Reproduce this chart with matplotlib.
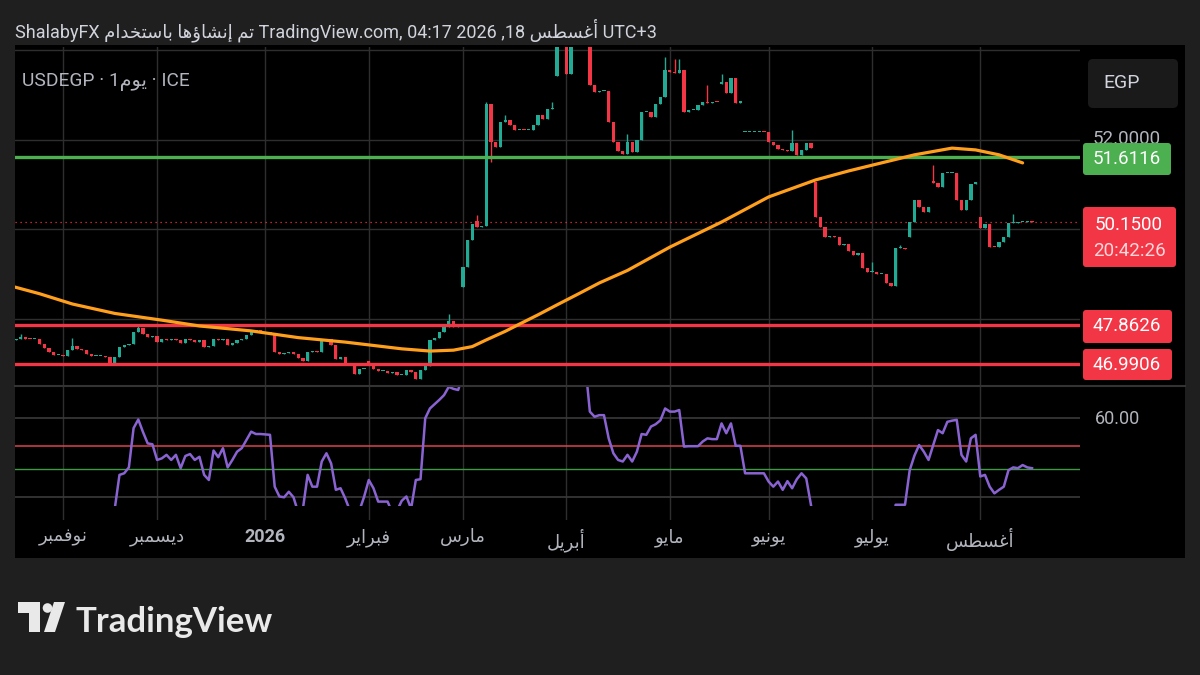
import numpy as np
import pandas as pd
import matplotlib
matplotlib.use("Agg")
import matplotlib.pyplot as plt
from matplotlib.patches import FancyBboxPatch, Rectangle, Polygon, Circle
from matplotlib.transforms import IdentityTransform
from matplotlib.lines import Line2D

# ---------------- data ----------------
bar_dates = pd.bdate_range("2025-10-20", "2026-08-18")

closes = [
    47.56, 47.60, 47.56, 47.54, 47.54, 47.44, 47.34, 47.26, 47.19, 47.19,  # 0
    47.17, 47.30, 47.39, 47.32, 47.30, 47.21, 47.17, 47.17, 47.17, 47.15,  # 10
    47.02, 47.15, 47.38, 47.41, 47.43, 47.71, 47.79, 47.66, 47.60, 47.61,  # 20
    47.49, 47.54, 47.52, 47.56, 47.52, 47.45, 47.56, 47.52, 47.49, 47.52,  # 30
    47.38, 47.40, 47.56, 47.52, 47.54, 47.41, 47.47, 47.52, 47.56, 47.63,  # 40
    47.72, 47.74, 47.70, 47.69, 47.69, 47.27, 47.22, 47.23, 47.27, 47.22,  # 50
    47.12, 47.06, 47.27, 47.28, 47.26, 47.50, 47.54, 47.41, 47.11, 47.14,  # 60
    47.00, 47.00, 46.77, 46.87, 46.87, 46.99, 46.89, 46.83, 46.83, 46.80,  # 70
    46.81, 46.74, 46.75, 46.85, 46.81, 46.65, 46.85, 46.94, 47.52, 47.57,  # 80
    47.70, 47.82, 47.94, 47.82, 47.89, 49.15, 49.75, 50.12, 50.06, 50.08,  # 90
    52.80, 51.95, 51.83, 52.39, 52.43, 52.32, 52.22, 52.22, 52.21, 52.22,  # 100
    52.32, 52.54, 52.47, 52.69, 52.69, 54.60, 54.80, 53.47, 54.50, 54.70,  # 110
    54.90, 54.60, 53.21, 53.06, 53.08, 53.08, 52.39, 51.95, 51.74, 51.68,  # 120
    51.94, 51.72, 51.98, 52.61, 52.61, 52.50, 52.80, 52.96, 53.55, 53.52,  # 130
    53.48, 53.55, 52.62, 52.65, 52.65, 52.77, 52.85, 52.81, 52.85, 52.83,  # 140
    53.29, 53.03, 53.37, 52.81, 52.86, 52.18, 52.18, 52.18, 52.18, 52.16,  # 150
    51.95, 51.88, 51.80, 51.77, 51.75, 51.92, 51.66, 51.77, 51.92, 51.81,  # 160
    50.28, 50.06, 49.83, 49.85, 49.83, 49.65, 49.67, 49.52, 49.42, 49.46,  # 170
    49.13, 49.05, 49.05, 49.01, 49.01, 48.79, 48.73, 49.57, 49.57, 49.55,  # 180
    50.17, 50.65, 50.50, 50.39, 50.49, 51.03, 50.95, 51.25, 51.26, 51.26,  # 190
    50.65, 50.43, 50.65, 51.02, 51.06, 50.02, 50.12, 49.61, 49.60, 49.72,  # 200
    49.83, 50.13, 50.13, 50.15, 50.17, 50.19, 50.15,                      # 210
]
# opens that differ from the previous close (gaps)
gap_opens = {0: 47.52, 75: 47.05, 95: 48.71, 98: 50.19, 115: 53.43, 150: 53.25,
             155: 52.18, 170: 51.06, 190: 49.83, 195: 51.07, 205: 50.27}
wick_highs = {1: 47.66, 12: 47.57, 26: 47.85, 92: 48.11, 98: 50.31, 100: 52.85,
              104: 52.55, 114: 52.84, 130: 52.13, 138: 53.85, 140: 53.81, 141: 53.81,
              147: 53.21, 150: 53.47, 165: 52.21, 182: 49.27, 188: 49.65, 195: 51.43,
              212: 50.35}
wick_lows = {20: 46.98, 101: 51.50}

# orange moving average, (bar index, price)
ma_idx = [-1, 5, 12, 21, 31, 39, 50, 60, 70, 82, 88, 93, 97, 100, 104, 107, 111,
          115, 120, 124, 130, 139, 150, 160, 170, 177, 184, 191, 199, 204, 209, 214]
ma_val = [48.73, 48.56, 48.33, 48.12, 47.97, 47.84, 47.73, 47.58, 47.48, 47.33,
          47.28, 47.30, 47.38, 47.53, 47.72, 47.88, 48.09, 48.31, 48.58, 48.80,
          49.08, 49.60, 50.16, 50.72, 51.10, 51.30, 51.48, 51.66, 51.81, 51.77,
          51.66, 51.48]

# RSI-style oscillator, (bar index, value)
rsi_idx = list(range(20, 217))
rsi_val = [
    33.0, 37.0, 45.6, 46.0, 47.5, 57.5, 59.7, 56.5, 53.6, 53.4,  # 20
    49.4, 49.8, 50.7, 49.4, 50.7, 47.3, 50.4, 50.9, 49.4, 50.2,  # 30
    45.6, 44.3, 51.8, 50.1, 52.4, 47.5, 49.4, 51.5, 52.4, 54.5,  # 40
    56.6, 56.0, 56.0, 55.9, 55.8, 42.6, 40.1, 39.9, 41.3, 39.9,  # 50
    36.0, 37.0, 45.6, 42.6, 42.6, 49.0, 51.1, 48.5, 41.8, 42.2,  # 60
    39.6, 36.5, 35.5, 36.5, 40.0, 44.3, 42.2, 38.8, 38.8, 38.8,  # 70
    36.0, 36.5, 39.0, 40.1, 37.0, 44.3, 44.5, 60.0, 62.5, 63.6,  # 80
    64.7, 65.9, 68.0, 67.5, 67.2, 71.0, 74.0, 76.0, 75.0, 75.0,  # 90
    82.0, 78.0, 77.0, 79.0, 79.0, 78.0, 77.0, 77.0, 77.0, 77.0,  # 100
    78.0, 79.0, 79.0, 80.0, 80.0, 84.0, 84.0, 78.0, 81.0, 84.0,  # 110
    83.0, 74.0, 61.7, 60.4, 60.8, 60.8, 54.9, 51.1, 49.4, 49.0,  # 120
    50.7, 49.0, 51.5, 56.0, 55.8, 57.9, 58.5, 59.5, 62.5, 61.7,  # 130
    61.7, 62.1, 52.8, 52.9, 52.9, 52.9, 54.1, 54.9, 54.7, 54.7,  # 140
    58.7, 56.2, 58.7, 53.0, 53.0, 46.0, 46.0, 46.0, 46.0, 46.0,  # 150
    43.9, 42.6, 43.9, 41.8, 44.0, 42.2, 44.5, 46.0, 44.7, 38.0,  # 160
    30.0, 28.0, 26.0, 25.0, 26.0, 25.0, 24.0, 24.0, 23.0, 25.0,  # 170
    23.0, 24.0, 24.0, 24.0, 23.0, 22.0, 22.0, 38.0, 38.0, 38.0,  # 180
    46.8, 50.5, 53.2, 51.5, 49.4, 53.2, 57.0, 56.2, 59.1, 59.4,  # 190
    59.6, 50.7, 49.0, 54.9, 55.8, 45.2, 45.6, 42.6, 40.9, 41.8,  # 200
    42.6, 46.8, 47.5, 47.3, 48.1, 47.5, 47.3,                    # 210
]

level_green = 51.6116
level_red_hi = 47.8626
level_red_lo = 46.9906
last_price = 50.15
countdown = "20:42:26"
price_grid = [48.0, 50.0, 52.0, 54.0]
rsi_grid = [60.0, 40.0]
rsi_red, rsi_green = 53.0, 47.0

month_names = ["نوفمبر", "ديسمبر", "2026", "فبراير", "مارس", "أبريل",
               "مايو", "يونيو", "يوليو", "أغسطس"]

# ---------------- minimal arabic shaping (visual order) ----------------
FORMS = {
    'ا': (0xFE8D, 0xFE8E), 'أ': (0xFE83, 0xFE84), 'إ': (0xFE87, 0xFE88),
    'ؤ': (0xFE85, 0xFE86), 'د': (0xFEA9, 0xFEAA), 'ر': (0xFEAD, 0xFEAE),
    'و': (0xFEED, 0xFEEE),
    'ب': (0xFE8F, 0xFE90, 0xFE91, 0xFE92), 'ت': (0xFE95, 0xFE96, 0xFE97, 0xFE98),
    'خ': (0xFEA5, 0xFEA6, 0xFEA7, 0xFEA8), 'س': (0xFEB1, 0xFEB2, 0xFEB3, 0xFEB4),
    'ش': (0xFEB5, 0xFEB6, 0xFEB7, 0xFEB8), 'ط': (0xFEC1, 0xFEC2, 0xFEC3, 0xFEC4),
    'غ': (0xFECD, 0xFECE, 0xFECF, 0xFED0), 'ف': (0xFED1, 0xFED2, 0xFED3, 0xFED4),
    'ل': (0xFEDD, 0xFEDE, 0xFEDF, 0xFEE0), 'م': (0xFEE1, 0xFEE2, 0xFEE3, 0xFEE4),
    'ن': (0xFEE5, 0xFEE6, 0xFEE7, 0xFEE8), 'ه': (0xFEE9, 0xFEEA, 0xFEEB, 0xFEEC),
    'ي': (0xFEF1, 0xFEF2, 0xFEF3, 0xFEF4),
}


def ar(s):
    out = []
    for k, ch in enumerate(s):
        f = FORMS.get(ch)
        if f is None:
            out.append(ch)
            continue
        prev = s[k - 1] if k > 0 else ''
        nxt = s[k + 1] if k + 1 < len(s) else ''
        jp = prev in FORMS and len(FORMS[prev]) == 4
        jn = len(f) == 4 and nxt in FORMS
        if jp and jn:
            cp = f[3]
        elif jp:
            cp = f[1]
        elif jn:
            cp = f[2]
        else:
            cp = f[0]
        out.append(chr(cp))
    return ''.join(out[::-1])


# ---------------- figure ----------------
W, H = 1200, 675
BG = '#1f1f1f'
GREEN = '#22ab94'
RED = '#f23645'
LINE_GREEN = '#4caf50'
ORANGE = '#ff9f1c'
PURPLE = '#8a63d2'
GRID = '#2e2e2e'
TXT = '#d1d4dc'
FONT = ['Roboto', 'DejaVu Sans']
plt.rcParams['font.family'] = FONT

fig = plt.figure(figsize=(12, 6.75), dpi=100, facecolor=BG)


def frac(x0, y0, x1, y1):
    return [x0 / W, 1 - y1 / H, (x1 - x0) / W, (y1 - y0) / H]


def pbox(x0, y0, x1, y1, color, r=3):
    p = FancyBboxPatch((x0, H - y1), x1 - x0, y1 - y0,
                       boxstyle=f"round,pad=0,rounding_size={r}",
                       transform=IdentityTransform(), facecolor=color,
                       edgecolor='none', zorder=5)
    fig.add_artist(p)


# black chart panel
fig.add_artist(Rectangle((15, H - 558), 1170, 513, transform=IdentityTransform(),
                         facecolor='black', edgecolor='none', zorder=0))

n = len(closes)
idx = np.arange(n)
xlim = (-0.21, 226.2)
month_idx = [int(np.searchsorted(bar_dates, pd.Timestamp(2025, 11, 1) + pd.DateOffset(months=k)))
             for k in range(10)]

# background axes: vertical grid + date labels
ax_bg = fig.add_axes(frac(15, 47, 1080, 520))
ax_bg.set_facecolor('none')
ax_bg.set_xlim(*xlim)
ax_bg.set_ylim(0, 1)
for s in ax_bg.spines.values():
    s.set_visible(False)
ax_bg.set_yticks([])
ax_bg.set_xticks(month_idx, [m if m.isdigit() else ar(m) for m in month_names])
ax_bg.tick_params(axis='x', length=0, pad=6, labelsize=13, colors='#b2b5be')
for lab in ax_bg.get_xticklabels():
    lab.set_family(['Roboto', 'DejaVu Sans'])
    if lab.get_text().isdigit():
        lab.set_fontweight('bold')
for m in month_idx:
    ax_bg.axvline(m, color=GRID, lw=1, zorder=0)

# price pane
ax_p = fig.add_axes(frac(15, 47, 1080, 386))
ax_p.set_facecolor('none')
ax_p.set_xlim(*xlim)
ax_p.set_ylim(46.50, 54.067)
ax_p.axis('off')

for g in price_grid:
    ax_p.axhline(g, color=GRID, lw=1, zorder=1)

c = np.array(closes)
o = np.r_[c[0], c[:-1]]
for k, v in gap_opens.items():
    o[k] = v
hi = np.maximum(o, c)
lo = np.minimum(o, c)
for k, v in wick_highs.items():
    hi[k] = v
for k, v in wick_lows.items():
    lo[k] = v
cols = np.where(c >= o, GREEN, RED)
body = np.maximum(np.abs(c - o), 0.022)
ax_p.vlines(idx, lo, hi, colors=cols, lw=1, zorder=3)
ax_p.bar(idx, body, bottom=np.minimum(o, c), width=0.7, color=cols, zorder=3)

ax_p.axhline(level_green, color=LINE_GREEN, lw=2.4, zorder=4)
ax_p.axhline(level_red_hi, color=RED, lw=2.4, zorder=4)
ax_p.axhline(level_red_lo, color=RED, lw=2.4, zorder=4)
ax_p.axhline(last_price, color=RED, lw=0.9, ls=(0, (1, 3)), zorder=2)
ax_p.plot(ma_idx, ma_val, color=ORANGE, lw=2.3, zorder=5, solid_capstyle='round',
          solid_joinstyle='round')

# oscillator pane
ax_r = fig.add_axes(frac(15, 386, 1080, 506))
ax_r.set_facecolor('none')
ax_r.set_xlim(*xlim)
ax_r.set_ylim(37.68, 68.22)
ax_r.axis('off')
for g in rsi_grid:
    ax_r.axhline(g, color='#3a3a3a', lw=1.2)
ax_r.axhline(rsi_red, color='#e0444f', lw=1.2, alpha=0.9)
ax_r.axhline(rsi_green, color='#3f9a43', lw=1.0)
ax_r.plot(rsi_idx, rsi_val, color=PURPLE, lw=1.8)

# pane separator
fig.add_artist(Line2D([15, 1185], [H - 386, H - 386], transform=IdentityTransform(),
                      color='#333333', lw=1.5))

# price scale labels
fig.text(1127 / W, 1 - 139 / H, "52.0000", color='#b2b5be', fontsize=13.5,
         ha='center', va='center', zorder=4)
pbox(1088, 59, 1178, 108, '#1a1a1a', r=5)
fig.text(1103 / W, 1 - 83 / H, "EGP", color=TXT, fontsize=14, ha='left', va='center', zorder=6)
pbox(1083, 143, 1171, 175, LINE_GREEN)
fig.text(1127 / W, 1 - 159 / H, f"{level_green:.4f}", color='white', fontsize=13.5,
         ha='center', va='center', zorder=6)
pbox(1083, 207, 1176, 267, RED)
fig.text(1129 / W, 1 - 225 / H, f"{last_price:.4f}", color='white', fontsize=13.5,
         ha='center', va='center', zorder=6)
fig.text(1129 / W, 1 - 251 / H, countdown, color='#ffd6d9', fontsize=13.5,
         ha='center', va='center', zorder=6)
pbox(1083, 310, 1172, 343, RED)
fig.text(1127 / W, 1 - 326 / H, f"{level_red_hi:.4f}", color='white', fontsize=13.5,
         ha='center', va='center', zorder=6)
pbox(1083, 349, 1172, 380, RED)
fig.text(1127 / W, 1 - 365 / H, f"{level_red_lo:.4f}", color='white', fontsize=13.5,
         ha='center', va='center', zorder=6)
fig.text(1095 / W, 1 - 419 / H, f"{rsi_grid[0]:.2f}", color='#b2b5be', fontsize=13,
         ha='left', va='center')

# header texts
title = ('ShalabyFX ' + ar('تم إنشاؤها باستخدام') + ' TradingView.com, 04:17 2026 ,18 '
         + ar('أغسطس') + ' UTC+3')
fig.text(15 / W, 1 - 30 / H, title, color=TXT, fontsize=13, ha='left', va='center')
fig.text(22 / W, 1 - 82 / H, 'USDEGP · 1' + ar('يوم') + ' · ICE', color='#b2b5be',
         fontsize=13.8, ha='left', va='center')

# TradingView wordmark
logo_col = '#e9e9e9'


def px(x, y):
    return (x, H - y)


fig.add_artist(Polygon([px(18, 602), px(40, 602), px(40, 632), px(29, 632), px(29, 613), px(18, 613)],
                       closed=True, transform=IdentityTransform(), facecolor=logo_col, edgecolor='none'))
fig.add_artist(Circle(px(47.5, 608), 4.8, transform=IdentityTransform(), facecolor=logo_col,
                      edgecolor='none'))
fig.add_artist(Polygon([px(54, 602), px(65, 602), px(55, 632), px(44, 632)], closed=True,
                       transform=IdentityTransform(), facecolor=logo_col, edgecolor='none'))
fig.text(76 / W, 1 - 632 / H, 'TradingView', color=logo_col, fontsize=25, fontweight='bold',
         family=['Lato', 'DejaVu Sans'], ha='left', va='baseline')

fig.savefig('out.png', dpi=100, facecolor=BG)
